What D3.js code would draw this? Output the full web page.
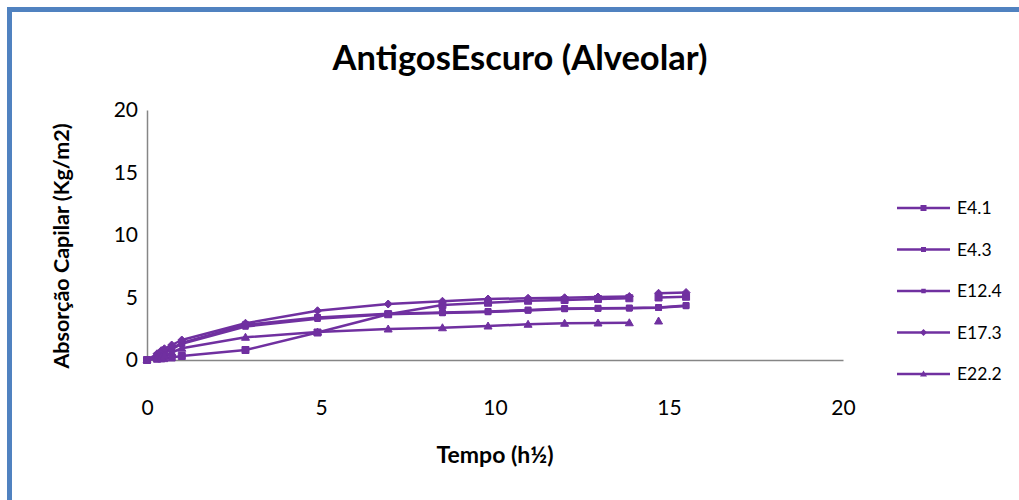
<!DOCTYPE html>
<html>
<head>
<meta charset="utf-8">
<script src="https://cdn.jsdelivr.net/npm/d3@7"></script>
<style>
  html, body { margin: 0; padding: 0; background: #fff; }
  svg { display: block; }
  text { font-family: Lato, "Open Sans", "Liberation Sans", sans-serif; fill: #000; }
</style>
</head>
<body>
<svg id="chart" width="1019" height="500"></svg>
<script>
// Capillary absorption (kg/m²) against square root of time (h½)
const times = [0, 0.29, 0.41, 0.5, 0.71, 1, 2.83, 4.9, 6.93, 8.49, 9.8, 10.95, 12, 12.96, 13.86, 14.7, 15.49];

const seriesNames = ["E4.1", "E4.3", "E12.4", "E17.3", "E22.2"];

const valuesE41  = [0, 0.10, 0.13, 0.15, 0.20, 0.32, 0.80, 2.20, 3.66, 4.40, 4.58, 4.74, 4.80, 4.88, 4.94, 5.00, 5.06];
const valuesE43  = [0, 0.35, 0.55, 0.65, 0.95, 1.36, 2.82, 3.40, 3.70, 3.80, 3.88, 4.00, 4.12, 4.14, 4.16, 4.20, 4.36];
const valuesE124 = [0, 0.30, 0.50, 0.60, 0.85, 1.30, 2.68, 3.30, 3.66, 3.76, 3.84, 3.96, 4.08, 4.12, 4.14, 4.18, 4.32];
const valuesE173 = [0, 0.50, 0.75, 0.90, 1.20, 1.60, 2.94, 3.94, 4.48, 4.70, 4.88, 4.94, 4.98, 5.04, 5.08, 5.34, 5.40];
const valuesE222 = [0, 0.20, 0.30, 0.38, 0.60, 0.94, 1.82, 2.24, 2.48, 2.58, 2.72, 2.86, 2.94, 2.96, 2.98, 3.12, null];

// index before which a series' line is interrupted (separate measurement block)
const breakBefore = { "E4.1": 15, "E4.3": null, "E12.4": null, "E17.3": 15, "E22.2": 15 };

const markerShapes = { "E4.1": "square", "E4.3": "square", "E12.4": "square", "E17.3": "diamond", "E22.2": "triangle" };
const markerSizes  = { "E4.1": 7, "E4.3": 6, "E12.4": 5.5, "E17.3": 6, "E22.2": 6 };

const xTicks = [0, 5, 10, 15, 20];
const yTicks = [0, 5, 10, 15, 20];

const allValues = [valuesE41, valuesE43, valuesE124, valuesE173, valuesE222];

const color = "#7030A0";
const svg = d3.select("#chart");

// outer frame of the chart area
svg.append("rect")
  .attr("x", 9.5).attr("y", 9.5)
  .attr("width", 1030).attr("height", 520)
  .attr("fill", "#fff")
  .attr("stroke", "#5082C0")
  .attr("stroke-width", 5);

const x = d3.scaleLinear().domain([0, 20]).range([147, 843]);
const y = d3.scaleLinear().domain([0, 20]).range([360, 110]);

// axes
const xAxis = svg.append("g").attr("transform", `translate(0,${y(0)})`)
  .call(d3.axisBottom(x).tickValues(xTicks).tickSize(0).tickPadding(40).tickFormat(d3.format("d")));
const yAxis = svg.append("g").attr("transform", `translate(${x(0)},0)`)
  .call(d3.axisLeft(y).tickValues(yTicks).tickSize(0).tickPadding(9).tickFormat(d3.format("d")));
[xAxis, yAxis].forEach(g => {
  g.select(".domain").attr("stroke", "#868686").attr("stroke-width", 1.5);
  g.selectAll("text").attr("font-size", 21).attr("font-family", "Lato, 'Open Sans', sans-serif").attr("fill", "#000");
});

// titles
svg.append("text")
  .attr("x", 520).attr("y", 70)
  .attr("text-anchor", "middle")
  .attr("font-size", 34.5).attr("font-weight", "bold")
  .text("AntigosEscuro (Alveolar)");

svg.append("text")
  .attr("x", 495).attr("y", 463)
  .attr("text-anchor", "middle")
  .attr("font-size", 23).attr("font-weight", "bold")
  .text("Tempo (h½)");

svg.append("text")
  .attr("transform", "translate(69,246) rotate(-90)")
  .attr("text-anchor", "middle")
  .attr("font-size", 21.5).attr("font-weight", "bold")
  .text("Absorção Capilar (Kg/m2)");

function markerPath(shape, s) {
  const h = s / 2;
  if (shape === "square") return `M${-h},${-h}h${s}v${s}h${-s}z`;
  if (shape === "diamond") return `M0,${-h - 1}L${h + 1},0L0,${h + 1}L${-h - 1},0z`;
  return `M0,${-h - 1}L${h + 1},${h}L${-h - 1},${h}z`;
}

const line = d3.line()
  .defined(d => !d.gap && d.v != null)
  .x(d => x(d.t)).y(d => y(d.v));

seriesNames.forEach((name, si) => {
  const vals = allValues[si];
  const pts = [];
  times.forEach((t, i) => {
    if (breakBefore[name] === i) pts.push({ gap: true });
    pts.push({ t, v: vals[i] });
  });
  const g = svg.append("g");
  g.append("path")
    .datum(pts)
    .attr("d", line)
    .attr("fill", "none")
    .attr("stroke", color)
    .attr("stroke-width", 2.5)
    .attr("stroke-linejoin", "round");
  g.selectAll("path.m")
    .data(pts.filter(d => !d.gap && d.v != null))
    .join("path")
    .attr("class", "m")
    .attr("transform", d => `translate(${x(d.t)},${y(d.v)})`)
    .attr("d", markerPath(markerShapes[name], markerSizes[name]))
    .attr("fill", color)
    .attr("stroke", color)
    .attr("stroke-width", 1);
});

// legend
const legend = svg.append("g");
seriesNames.forEach((name, i) => {
  const ly = 208 + i * 41.5;
  legend.append("line")
    .attr("x1", 897).attr("x2", 950).attr("y1", ly).attr("y2", ly)
    .attr("stroke", color).attr("stroke-width", 2.5);
  legend.append("path")
    .attr("transform", `translate(923.5,${ly})`)
    .attr("d", markerPath(markerShapes[name], markerSizes[name] - 1))
    .attr("fill", color);
  legend.append("text")
    .attr("x", 957).attr("y", ly + 6)
    .attr("font-size", 17.5)
    .text(name);
});
</script>
</body>
</html>
